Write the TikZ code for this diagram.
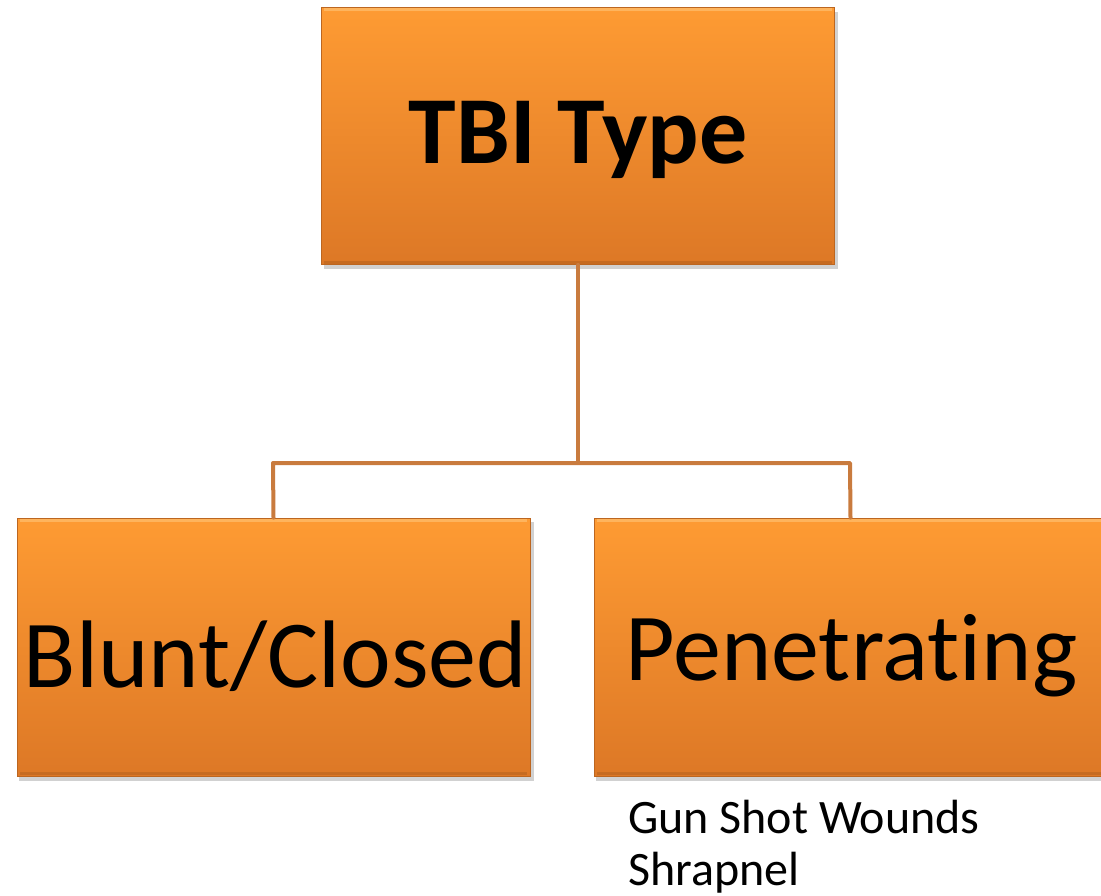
\documentclass[tikz,border=0pt]{standalone}
\usepackage{fontspec}
\setmainfont[Ligatures=NoCommon]{Carlito}
\usetikzlibrary{positioning}
\definecolor{boxtop}{HTML}{FE9B33}
\definecolor{boxbot}{HTML}{DD7826}
\definecolor{linec}{HTML}{C97B3E}
\definecolor{bevel}{HTML}{FFC070}
\tikzset{
  orangebox/.style={rectangle, minimum width=513pt, minimum height=257pt, inner sep=0pt,
    top color=boxtop, bottom color=boxbot, draw=boxbot!85!black, line width=0.8pt},
  shadowbox/.style={fill=black, opacity=0.18},
  conn/.style={draw=linec, line width=4pt, line cap=round, line join=round},
}
\begin{document}
\begin{tikzpicture}[x=1pt,y=-1pt]
\useasboundingbox (0,0) rectangle (1101,896);
% shadows
\fill[shadowbox] (324,12) rectangle (838,269);
\fill[shadowbox] (19,522) rectangle (534,781);
\fill[shadowbox] (596,522) rectangle (1120,781);
% boxes
\node[orangebox] (top) at (578,136) {};
\node[orangebox, minimum height=258pt] (left) at (273.5,647) {};
\node[orangebox, minimum height=258pt] (right) at (850.5,647) {};
% bevel highlights
\foreach \n in {top,left,right}{
  \draw[bevel, line width=3pt, opacity=0.7] ([xshift=3pt,yshift=-2.5pt]\n.north west) -- ([xshift=-3pt,yshift=-2.5pt]\n.north east);
  \draw[boxbot!80!black, line width=3pt, opacity=0.5] ([xshift=3pt,yshift=2.5pt]\n.south west) -- ([xshift=-3pt,yshift=2.5pt]\n.south east);
}
% text
\node[font=\fontsize{96}{110}\selectfont\bfseries] (toptext) at ([yshift=-4pt]top.center) {TBI Type};
\node[font=\fontsize{96}{110}\selectfont] (lefttext) at ([xshift=2pt,yshift=-9pt]left.center) {Blunt/Closed};
\node[font=\fontsize{96}{110}\selectfont] (righttext) at ([xshift=1pt,yshift=-9pt]right.center) {Penetrating};
\node[font=\fontsize{48}{52}\selectfont, anchor=north west, align=left, inner sep=0pt] (notes) at (628,800) {Gun Shot Wounds\\Shrapnel};
% connectors
\coordinate (mid) at (578,463);
\draw[conn] (top.south) -- (mid);
\draw[conn] (left.north) -- (273,463) -- (850,463) -- (right.north);
\end{tikzpicture}
\end{document}
